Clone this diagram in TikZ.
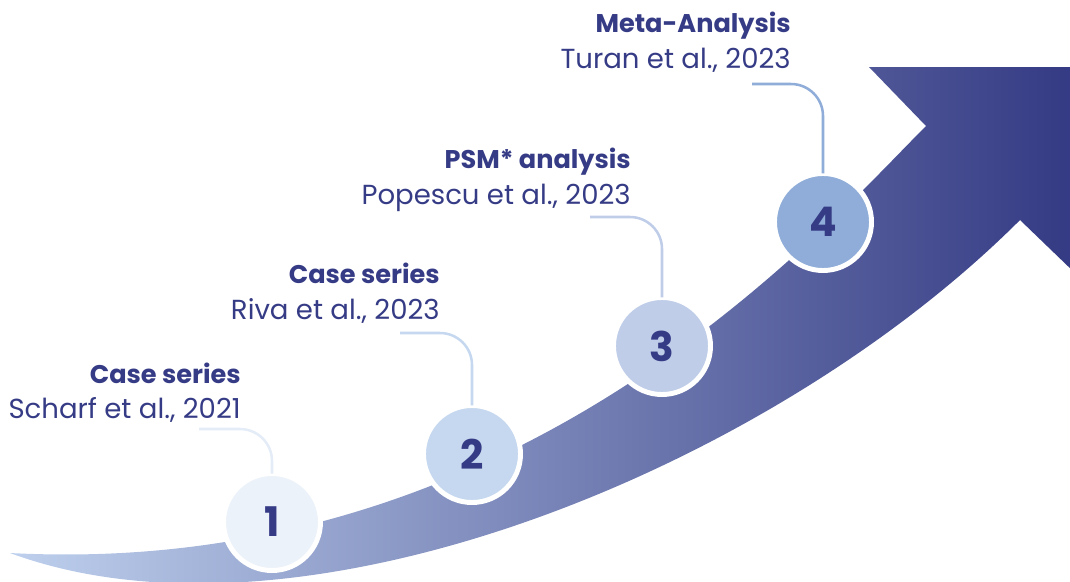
\documentclass[tikz,border=0pt]{standalone}
\usepackage{fontspec}
\setmainfont{Poppins}
\usepackage{tikz}

\definecolor{navy}{RGB}{53,59,133}
\definecolor{arrowlight}{RGB}{190,208,237}
\definecolor{arrowdark}{RGB}{52,58,131}
\definecolor{stageA}{RGB}{236,242,250}
\definecolor{stageB}{RGB}{197,216,239}
\definecolor{stageC}{RGB}{191,205,233}
\definecolor{stageD}{RGB}{143,173,216}
\definecolor{linkA}{RGB}{228,236,247}

\begin{document}
\begin{tikzpicture}[x=0.025cm,y=-0.025cm]
			\tikzstyle{every node}+=[inner sep=0pt]
			\tikzstyle{stage}=[circle, draw=white, line width=3.5pt, outer sep=0pt, minimum size=2.425cm, text=navy, font=\bfseries\fontsize{29}{29}\selectfont]
			\tikzstyle{link}=[line width=1.8pt, rounded corners=0.8cm]
			\tikzstyle{head}=[anchor=base east, text=navy, font=\bfseries\fontsize{18.2}{23}\selectfont]
			\tikzstyle{cite}=[anchor=base east, text=navy, font=\fontsize{19.6}{23}\selectfont]
			\path[use as bounding box] (0,0) rectangle (1070,581);
			\clip (0,0) rectangle (1070,581);
			% the rising arrow
			\shade [left color=arrowlight, right color=arrowdark] (10,553) .. controls (520,580) and (820,232) .. (926,126)
				-- (869,67) -- (1075,67) -- (1075,273) -- (1020,220)
				.. controls (770,470) and (300,660) .. (10,553) -- cycle;
			% numbered stages
			\node [stage, fill=stageA] (c1) at (272,522) {1};
			\node [stage, fill=stageB] (c2) at (472,454) {2};
			\node [stage, fill=stageC] (c3) at (662,346) {3};
			\node [stage, fill=stageD] (c4) at (823,222) {4};
			% ends of the leader lines
			\coordinate (k1) at (199,429);
			\coordinate (k2) at (400,333);
			\coordinate (k3) at (590,217);
			\coordinate (k4) at (752,84);
			\draw [link, linkA] (c1.north) |- (k1);
			\draw [link, stageB] (c2.north) |- (k2);
			\draw [link, stageC] (c3.north) |- (k3);
			\draw [link, stageD] (c4.north) |- (k4);
			% study labels
			\node [head] (t1) at (241,383) {Case series};
			\node [cite] (s1) at (241,418) {Scharf et al., 2021};
			\node [head] (t2) at (440,283) {Case series};
			\node [cite] (s2) at (440,319) {Riva et al., 2023};
			\node [head] (t3) at (631,168) {PSM* analysis};
			\node [cite] (s3) at (631,204) {Popescu et al., 2023};
			\node [head] (t4) at (791,32) {Meta-Analysis};
			\node [cite] (s4) at (791,68) {Turan et al., 2023};
\end{tikzpicture}
\end{document}
